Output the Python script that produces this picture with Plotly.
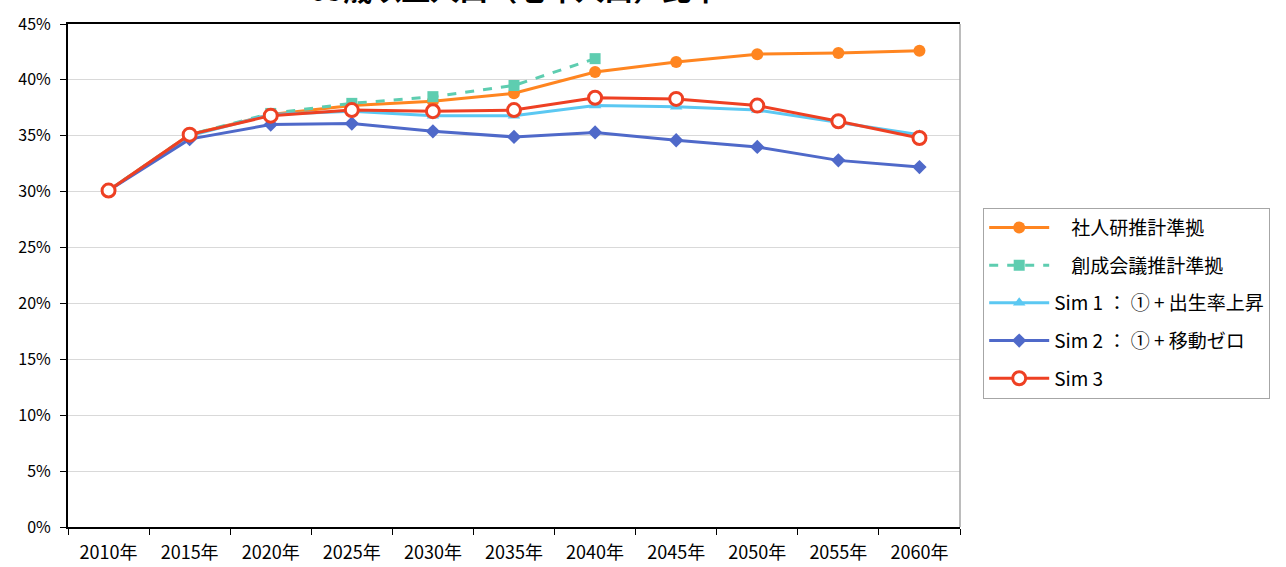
import plotly.graph_objects as go

years = ["2010年", "2015年", "2020年", "2025年", "2030年", "2035年", "2040年", "2045年", "2050年", "2055年", "2060年"]
y_ticks = [0, 5, 10, 15, 20, 25, 30, 35, 40, 45]

shajinken = [30.1, 35.1, 36.9, 37.7, 38.1, 38.8, 40.7, 41.6, 42.3, 42.4, 42.6]
sousei = [30.1, 35.1, 37.0, 37.9, 38.5, 39.5, 41.9]
sim1 = [30.1, 35.0, 36.9, 37.2, 36.8, 36.8, 37.7, 37.6, 37.3, 36.2, 35.1]
sim2 = [30.1, 34.7, 36.0, 36.1, 35.4, 34.9, 35.3, 34.6, 34.0, 32.8, 32.2]
sim3 = [30.1, 35.1, 36.8, 37.3, 37.2, 37.3, 38.4, 38.3, 37.7, 36.3, 34.8]

names = ["    社人研推計準拠", "    創成会議推計準拠", "Sim 1 ： ① + 出生率上昇", "Sim 2 ： ① + 移動ゼロ", "Sim 3"]

font = "Noto Sans CJK JP"

fig = go.Figure()
fig.add_trace(go.Scatter(x=years, y=shajinken, name=names[0], legendgroup="a", mode="lines+markers",
                         line=dict(color="#FF8520", width=3),
                         marker=dict(symbol="circle", size=12, color="#FF8520")))
fig.add_trace(go.Scatter(x=years[:len(sousei)], y=sousei, name=names[1], legendgroup="b", mode="lines+markers",
                         line=dict(color="#5ECDB0", width=3, dash="dash"),
                         marker=dict(symbol="square", size=11, color="#5ECDB0")))
fig.add_trace(go.Scatter(x=years, y=sim1, name=names[2], legendgroup="c", mode="lines+markers",
                         line=dict(color="#5BC8F2", width=3),
                         marker=dict(symbol="triangle-up", size=11, color="#5BC8F2")))
fig.add_trace(go.Scatter(x=years, y=sim2, name=names[3], legendgroup="d", mode="lines+markers",
                         line=dict(color="#4F69C9", width=3),
                         marker=dict(symbol="diamond", size=11, color="#4F69C9")))
fig.add_trace(go.Scatter(x=years, y=sim3, name=names[4], legendgroup="e", mode="lines+markers",
                         line=dict(color="#EE4023", width=3),
                         marker=dict(symbol="circle", size=13, color="white",
                                     line=dict(color="#EE4023", width=3))))

fig.update_layout(
    width=1286, height=567,
    margin=dict(l=68, r=326, t=24, b=40, autoexpand=False),
    paper_bgcolor="white", plot_bgcolor="white",
    font=dict(family=font, size=16, color="#000000"),
    showlegend=True,
    legend=dict(x=1.026, y=0.635, xanchor="left", yanchor="top",
                bordercolor="#A6A6A6", borderwidth=1,
                font=dict(family=font, size=19, color="#000000"),
                itemwidth=60, tracegroupgap=10, traceorder="grouped"),
    xaxis=dict(type="category", range=[-0.5, 10.5], tickson="boundaries",
               ticks="outside", ticklen=6, tickcolor="#000000", tickwidth=1,
               ticklabelstandoff=8, automargin=False,
               showline=True, linecolor="#000000", linewidth=2, mirror=True,
               showgrid=False, tickfont=dict(size=18), fixedrange=True),
    yaxis=dict(range=[0, 45], tickvals=y_ticks, ticktext=[f"{v}%" for v in y_ticks],
               ticks="outside", ticklen=6, tickcolor="#000000",
               ticklabelstandoff=6, automargin=False,
               showline=True, linecolor="#000000", linewidth=2,
               showgrid=True, gridcolor="#D9D9D9", gridwidth=1,
               zeroline=False, tickfont=dict(size=16)),
    shapes=[dict(type="line", xref="paper", yref="paper", x0=1, x1=1, y0=0, y1=1,
                 line=dict(color="#A6A6A6", width=1.5))],
    annotations=[dict(text="<b>65歳以上人口（老年人口）比率</b>", xref="paper", yref="paper",
                      x=0.5, y=1.072, xanchor="center", yanchor="middle", showarrow=False,
                      font=dict(family=font, size=29, color="#000000"))],
)

fig.write_html("out.html", config={"displayModeBar": False},
               post_script="document.body.style.margin='0px';document.body.style.overflow='hidden';")
